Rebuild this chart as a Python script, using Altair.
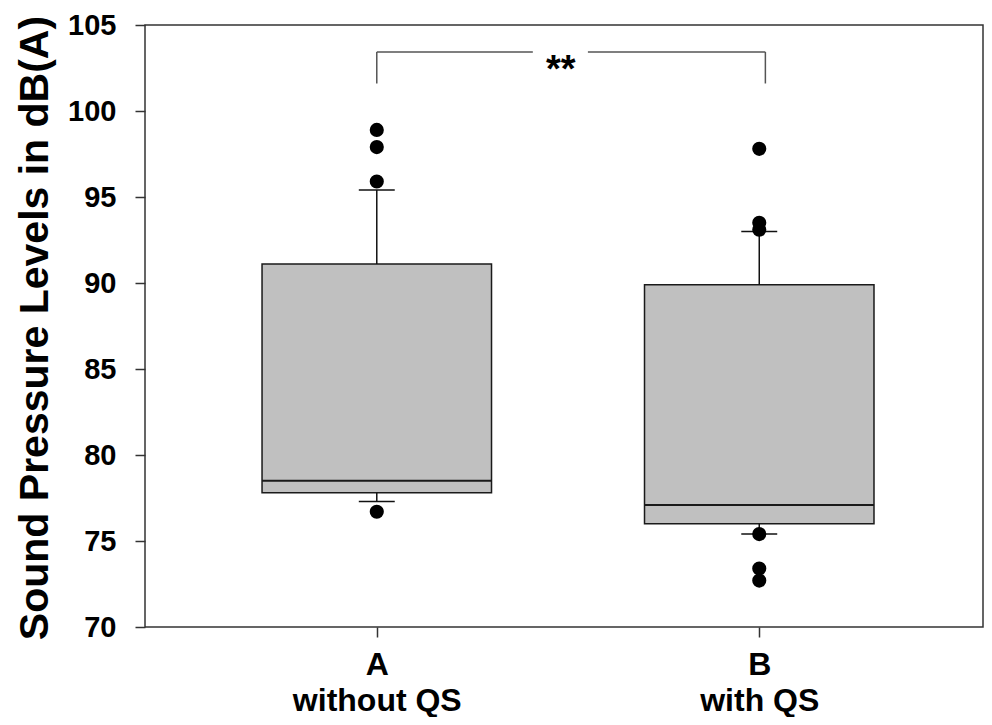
import altair as alt
import pandas as pd

# ---- data ----
groups = ["A", "B"]
subtitles = ["without QS", "with QS"]
group_pos = [1, 2]
q1 = [77.8, 76.0]
median = [78.5, 77.1]
q3 = [91.1, 89.9]
whisker_low = [77.3, 75.4]
whisker_high = [95.4, 93.0]

outlier_pos = [1, 1, 1, 1, 2, 2, 2, 2, 2, 2]
outlier_value = [98.9, 97.9, 95.9, 76.7, 97.8, 93.5, 93.1, 75.4, 73.4, 72.7]

# significance bracket annotation
bracket_ends = [1.0, 2.016]
bracket_gap = [1.408, 1.552]
bracket_top = 103.43
bracket_bottom = 101.6
star_text = "**"
star_x = 1.481
star_y = 101.68

y_ticks = [70, 75, 80, 85, 90, 95, 100, 105]

FONT = "Liberation Sans"
BOX_HALF = 0.3
CAP_HALF = 0.047

boxes = pd.DataFrame({
    "pos": group_pos, "group": groups, "subtitle": subtitles,
    "q1": q1, "median": median, "q3": q3,
    "lo": whisker_low, "hi": whisker_high,
})
outliers = pd.DataFrame({"pos": outlier_pos, "value": outlier_value})

seg = pd.DataFrame({
    "x": [bracket_ends[0], bracket_gap[1], bracket_ends[0], bracket_ends[1]],
    "x2": [bracket_gap[0], bracket_ends[1], bracket_ends[0], bracket_ends[1]],
    "y": [bracket_top, bracket_top, bracket_bottom, bracket_bottom],
    "y2": [bracket_top, bracket_top, bracket_top, bracket_top],
})
star = pd.DataFrame({"x": [star_x], "y": [star_y], "t": [star_text]})

xs = alt.Scale(domain=[0.394, 2.585], nice=False, zero=False)
ys = alt.Scale(domain=[70, 105], nice=False, zero=False)

label_expr = "[" + ",".join(f"['{g}','{s}']" for g, s in zip(groups, subtitles)) + "][datum.value - 1]"
x_axis = alt.Axis(values=group_pos, labelExpr=label_expr, title=None,
                  labelFontSize=32, labelLineHeight=36,
                  labelBaseline="alphabetic", labelPadding=37,
                  labelFlush=False, labelOverlap=False)
y_axis = alt.Axis(values=y_ticks, title="Sound Pressure Levels in dB(A)",
                  labelFontSize=29, labelPadding=19,
                  titleFontSize=41, titleFontWeight="bold", titleFont=FONT,
                  titleX=-98, titleY=302.5, titleAngle=270,
                  titleAlign="center", titleBaseline="alphabetic",
                  titleColor="black")


def X(field):
    return alt.X(field, scale=xs, axis=x_axis)


def Y(field):
    return alt.Y(field, scale=ys, axis=y_axis)


base = alt.Chart(boxes).transform_calculate(
    xl=f"datum.pos - {BOX_HALF}", xr=f"datum.pos + {BOX_HALF}",
    cl=f"datum.pos - {CAP_HALF}", cr=f"datum.pos + {CAP_HALF}",
)

box = base.mark_bar(fill="#c0c0c0", stroke="#1a1a1a", strokeWidth=1.5).encode(
    x=X("xl:Q"), x2="xr:Q", y=Y("q1:Q"), y2="q3:Q")
med = base.mark_rule(color="#1a1a1a", strokeWidth=2).encode(
    x=X("xl:Q"), x2="xr:Q", y=Y("median:Q"))
wh_up = base.mark_rule(color="#111", strokeWidth=1.5).encode(
    x=X("pos:Q"), y=Y("q3:Q"), y2="hi:Q")
wh_lo = base.mark_rule(color="#111", strokeWidth=1.5).encode(
    x=X("pos:Q"), y=Y("lo:Q"), y2="q1:Q")
cap_up = base.mark_rule(color="#111", strokeWidth=1.5).encode(
    x=X("cl:Q"), x2="cr:Q", y=Y("hi:Q"))
cap_lo = base.mark_rule(color="#111", strokeWidth=1.5).encode(
    x=X("cl:Q"), x2="cr:Q", y=Y("lo:Q"))
pts = alt.Chart(outliers).mark_circle(size=200, color="black", opacity=1).encode(
    x=X("pos:Q"), y=Y("value:Q"))
bracket = alt.Chart(seg).mark_rule(color="#555", strokeWidth=1.5).encode(
    x=X("x:Q"), x2="x2:Q", y=Y("y:Q"), y2="y2:Q")
stars = alt.Chart(star).mark_text(fontSize=38, fontWeight="bold", font=FONT,
                                  baseline="alphabetic", align="center",
                                  color="black").encode(
    x=X("x:Q"), y=Y("y:Q"), text="t:N")

chart = alt.layer(box, med, wh_up, wh_lo, cap_up, cap_lo, pts, bracket, stars).properties(
    width=838, height=602,
    autosize=alt.AutoSizeParams(type="none"),
    padding={"left": 137, "top": 17, "right": 1, "bottom": 90},
).configure_view(
    stroke="#333", strokeWidth=1.5
).configure_axis(
    domain=False, grid=False, tickColor="#333", tickSize=10, tickWidth=1.5,
    labelFont=FONT, labelFontWeight="bold", labelColor="black",
)

chart.save("out.html", embed_options={"renderer": "svg", "actions": False})
